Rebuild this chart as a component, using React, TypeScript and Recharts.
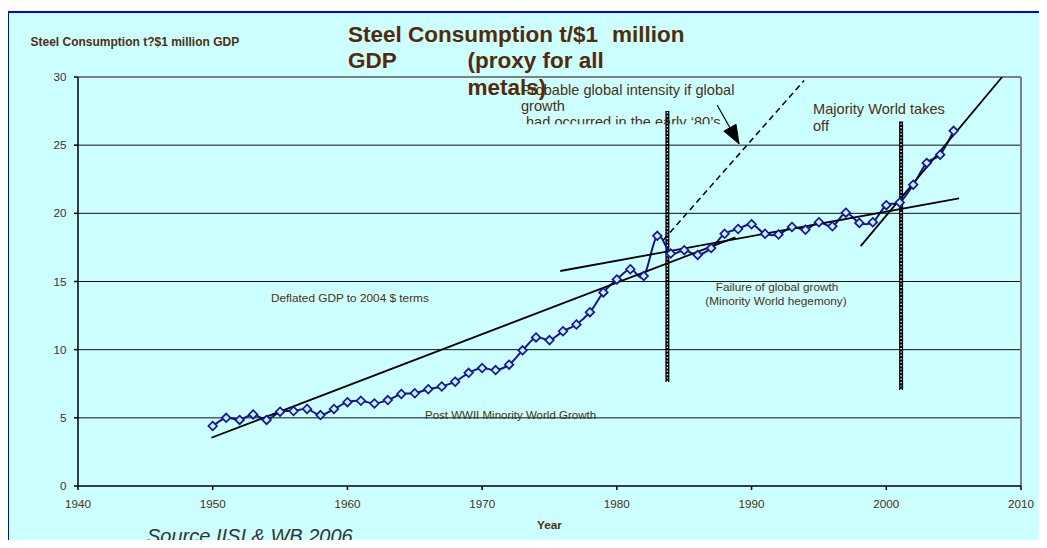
import React from "react";
import { ComposedChart, Line, XAxis, YAxis, CartesianGrid, ReferenceLine } from "recharts";

const FONT = "'Liberation Sans', Arial, Helvetica, sans-serif";
const BROWN = "#4f300c";
const TITLE_BROWN = "#552a08";

// Steel consumption t / $1 million GDP, by year
const years = [
  1950, 1951, 1952, 1953, 1954, 1955, 1956, 1957, 1958, 1959,
  1960, 1961, 1962, 1963, 1964, 1965, 1966, 1967, 1968, 1969,
  1970, 1971, 1972, 1973, 1974, 1975, 1976, 1977, 1978, 1979,
  1980, 1981, 1982, 1983, 1984, 1985, 1986, 1987, 1988, 1989,
  1990, 1991, 1992, 1993, 1994, 1995, 1996, 1997, 1998, 1999,
  2000, 2001, 2002, 2003, 2004, 2005,
];
const intensity = [
  4.4, 5.0, 4.85, 5.25, 4.85, 5.45, 5.5, 5.65, 5.2, 5.65,
  6.15, 6.25, 6.05, 6.3, 6.75, 6.8, 7.1, 7.3, 7.65, 8.3,
  8.65, 8.5, 8.9, 9.95, 10.9, 10.7, 11.35, 11.85, 12.75, 14.2,
  15.15, 15.9, 15.4, 18.35, 17.05, 17.3, 16.95, 17.45, 18.5, 18.85,
  19.2, 18.5, 18.45, 19.0, 18.8, 19.35, 19.05, 20.05, 19.3, 19.35,
  20.6, 20.8, 22.1, 23.7, 24.3, 26.05,
];

// Trend lines (start/end)
const postWarTrendX = [1949.9, 1988.8];
const postWarTrendY = [3.54, 18.24];
const failureTrendX = [1975.8, 2005.4];
const failureTrendY = [15.77, 21.1];
const majorityTrendX = [1998.1, 2008.6];
const majorityTrendY = [17.6, 30.0];
const probableTrendX = [1983.45, 1993.9];
const probableTrendY = [18.05, 29.75];

// Annotation arrow and event markers
const arrowX = [1987.44, 1989.07];
const arrowY = [27.95, 25.1];
const marker1983X = [1983.75, 1983.75];
const marker1983Y = [7.63, 27.5];
const marker2001X = [2001.1, 2001.1];
const marker2001Y = [7.04, 26.73];

const xTicks = [1940, 1950, 1960, 1970, 1980, 1990, 2000, 2010];
const yTicks = [0, 5, 10, 15, 20, 25, 30];

const pairs = (xs: number[], ys: number[]) => xs.map((x, i) => ({ x, y: ys[i] }));

const mainData = pairs(years, intensity);
const postWarData = pairs(postWarTrendX, postWarTrendY);
const failureData = pairs(failureTrendX, failureTrendY);
const majorityData = pairs(majorityTrendX, majorityTrendY);
const probableData = pairs(probableTrendX, probableTrendY);
const arrowData = pairs(arrowX, arrowY);
const bar1Data = pairs(marker1983X, marker1983Y);
const bar2Data = pairs(marker2001X, marker2001Y);

// Excel-like smoothed line (Catmull-Rom through the points)
const smoothCurve = (context: any) => {
  let pts: number[][] = [];
  return {
    areaStart() {},
    areaEnd() {},
    lineStart() {
      pts = [];
    },
    point(x: number, y: number) {
      pts.push([+x, +y]);
    },
    lineEnd() {
      const n = pts.length;
      if (!n) return;
      context.moveTo(pts[0][0], pts[0][1]);
      const t = 1 / 6;
      for (let i = 0; i < n - 1; i++) {
        const p0 = pts[Math.max(i - 1, 0)];
        const p1 = pts[i];
        const p2 = pts[i + 1];
        const p3 = pts[Math.min(i + 2, n - 1)];
        context.bezierCurveTo(
          p1[0] + (p2[0] - p0[0]) * t,
          p1[1] + (p2[1] - p0[1]) * t,
          p2[0] - (p3[0] - p1[0]) * t,
          p2[1] - (p3[1] - p1[1]) * t,
          p2[0],
          p2[1]
        );
      }
    },
  };
};

const Diamond = (props: any) => {
  const { cx, cy, index } = props;
  if (cx == null || cy == null) return <g key={`d${index}`} />;
  const r = 4.3;
  return (
    <polygon
      key={`d${index}`}
      points={`${cx},${cy - r} ${cx + r},${cy} ${cx},${cy + r} ${cx - r},${cy}`}
      fill="#c8f0ff"
      stroke="#16169a"
      strokeWidth={1.7}
    />
  );
};

const ArrowHead = (props: any) => {
  const { cx, cy, index, points } = props;
  if (index !== 1 || cx == null) return <g key={`a${index}`} />;
  let dx = 0.5;
  let dy = 0.866;
  if (points && points.length > 1) {
    dx = points[1].x - points[0].x;
    dy = points[1].y - points[0].y;
  }
  const len = Math.sqrt(dx * dx + dy * dy) || 1;
  const ux = dx / len;
  const uy = dy / len;
  const L = 18.5;
  const W = 7;
  const bx = cx - ux * L;
  const by = cy - uy * L;
  const p1 = `${cx},${cy}`;
  const p2 = `${bx - uy * W},${by + ux * W}`;
  const p3 = `${bx + uy * W},${by - ux * W}`;
  return <polygon key={`a${index}`} points={`${p1} ${p2} ${p3}`} fill="#000" stroke="#000" strokeWidth={1} />;
};

const tickStyle = { fill: BROWN, fontSize: 11.7, fontFamily: FONT };

export default function App() {
  return (
    <div
      style={{
        position: "relative",
        width: 1047,
        height: 548,
        margin: -8,
        overflow: "hidden",
        background: "#ffffff",
        fontFamily: FONT,
      }}
    >
      <div
        style={{
          position: "absolute",
          left: 6,
          top: 11,
          width: 1100,
          height: 600,
          background: "#ccffff",
          borderLeft: "3px solid #0000ff",
          borderTop: "2px solid #0000ff",
        }}
      />
      <div style={{ position: "absolute", left: 0, top: 0 }}>
        <ComposedChart width={1047} height={548} margin={{ top: 77, right: 26, bottom: 32, left: 18 }}>
          <CartesianGrid horizontal={true} vertical={false} horizontalValues={[5, 10, 15, 20, 25]} stroke="#111" strokeWidth={1} />
          <XAxis
            type="number"
            dataKey="x"
            domain={[1940, 2010]}
            ticks={xTicks}
            allowDataOverflow
            height={30}
            tickSize={4}
            tickMargin={10}
            tick={tickStyle}
            axisLine={{ stroke: "#000", strokeWidth: 1.5 }}
            tickLine={{ stroke: "#000", strokeWidth: 1.5 }}
          />
          <YAxis
            type="number"
            domain={[0, 30]}
            ticks={yTicks}
            allowDataOverflow
            width={60}
            tickSize={4}
            tickMargin={7.5}
            tick={tickStyle}
            axisLine={{ stroke: "#000", strokeWidth: 1.5 }}
            tickLine={{ stroke: "#000", strokeWidth: 1.5 }}
          />
          <ReferenceLine y={30} stroke="#808080" strokeWidth={2} ifOverflow="visible" />
          <ReferenceLine x={2010} stroke="#808080" strokeWidth={2} ifOverflow="visible" />

          <Line data={bar1Data} dataKey="y" stroke="#000" strokeWidth={4} dot={false} activeDot={false} isAnimationActive={false} type="linear" />
          <Line data={bar1Data} dataKey="y" stroke="#ffffff" strokeWidth={1.4} strokeDasharray="1.2 2.2" dot={false} activeDot={false} isAnimationActive={false} type="linear" />
          <Line data={bar2Data} dataKey="y" stroke="#000" strokeWidth={4} dot={false} activeDot={false} isAnimationActive={false} type="linear" />
          <Line data={bar2Data} dataKey="y" stroke="#ffffff" strokeWidth={1.4} strokeDasharray="1.2 2.2" dot={false} activeDot={false} isAnimationActive={false} type="linear" />

          <Line data={probableData} dataKey="y" stroke="#000" strokeWidth={1.5} strokeDasharray="6 4" dot={false} activeDot={false} isAnimationActive={false} type="linear" />
          <Line data={arrowData} dataKey="y" stroke="#000" strokeWidth={1.2} dot={ArrowHead} activeDot={false} isAnimationActive={false} type="linear" />

          <Line data={mainData} dataKey="y" stroke="#14148e" strokeWidth={2} type={smoothCurve as any} dot={Diamond} activeDot={false} isAnimationActive={false} />

          <Line data={postWarData} dataKey="y" stroke="#000" strokeWidth={1.8} dot={false} activeDot={false} isAnimationActive={false} type="linear" />
          <Line data={failureData} dataKey="y" stroke="#000" strokeWidth={1.8} dot={false} activeDot={false} isAnimationActive={false} type="linear" />
          <Line data={majorityData} dataKey="y" stroke="#000" strokeWidth={1.8} dot={false} activeDot={false} isAnimationActive={false} type="linear" />
        </ComposedChart>
      </div>
      <svg
        width={1047}
        height={548}
        style={{ position: "absolute", left: 0, top: 0, pointerEvents: "none" }}
        fontFamily={FONT}
      >
        <defs>
          <clipPath id="probableClip">
            <rect x={500} y={70} width={260} height={54.3} />
          </clipPath>
        </defs>
        <text x={30.5} y={45.7} fontSize={12} fontWeight="bold" fill={BROWN}>
          Steel Consumption t?$1 million GDP
        </text>

        <g clipPath="url(#probableClip)" fill={BROWN} fontSize={14.6}>
          <text x={521} y={94.8}>Probable global intensity if global</text>
          <text x={521} y={110.8}>growth</text>
          <text x={526} y={126.8}>had occurred in the early ‘80’s</text>
        </g>

        <text x={813} y={114.3} fontSize={14.6} fill={BROWN}>Majority World takes</text>
        <text x={813} y={130.7} fontSize={14.6} fill={BROWN}>off</text>

        <text x={271} y={301.7} fontSize={11.8} fill={BROWN}>Deflated GDP to 2004 $ terms</text>
        <text x={777} y={291} fontSize={11.8} fill={BROWN} textAnchor="middle">Failure of global growth</text>
        <text x={776} y={305.3} fontSize={11.8} fill={BROWN} textAnchor="middle">(Minority World hegemony)</text>
        <text x={425} y={418.5} fontSize={11.5} fill={BROWN}>Post WWII Minority World Growth</text>

        <text x={549.5} y={528.7} fontSize={11.8} fontWeight="bold" fill={BROWN} textAnchor="middle">Year</text>
        <text x={147} y={542.6} fontSize={20} fontStyle="italic" fill="#333333">Source IISI &amp; WB 2006</text>

        <g fill={TITLE_BROWN} fontSize={22.5} fontWeight="bold">
          <text x={348} y={41.7}>Steel Consumption t/$1</text>
          <text x={612} y={41.7}>million</text>
          <text x={348} y={68.3}>GDP</text>
          <text x={467.5} y={68.3}>(proxy for all</text>
          <text x={467.5} y={95}>metals)</text>
        </g>
      </svg>
    </div>
  );
}
